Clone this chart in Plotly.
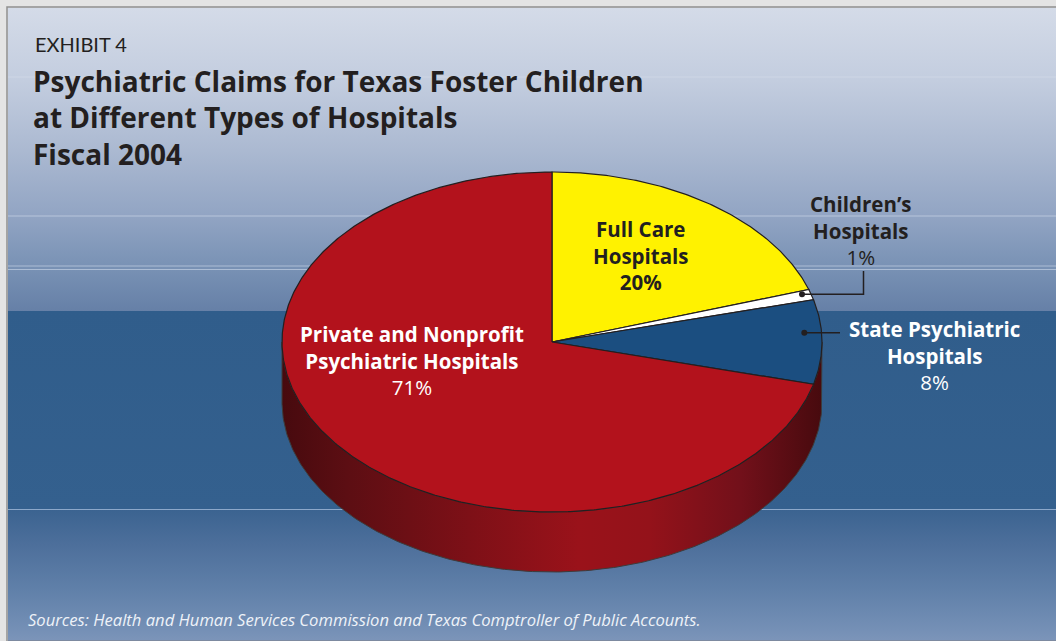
import numpy as np
import plotly.graph_objects as go

# ---- data -------------------------------------------------------------
categories = [
    "Full Care Hospitals",
    "Children’s Hospitals",
    "State Psychiatric Hospitals",
    "Private and Nonprofit Psychiatric Hospitals",
]
shares = [20, 1, 8, 71]          # percent of psychiatric claims
slice_colors = ["#fff200", "#ffffff", "#1b4e80", "#b3121c"]

# ---- canvas / pie geometry (pixel-like coordinates) -------------------
W, H = 1056, 641
CX, CY = 552, 342        # centre of the top face
RX, RY = 270, 170        # radii of the tilted (elliptical) top face
DEPTH = 60               # thickness of the pie
FONT = "Open Sans"
THIN_FONT = "Lato"
INK = "#231f20"


def rim(t_deg, dy=0.0):
    t = np.radians(t_deg)
    return CX + RX * np.cos(t), CY - RY * np.sin(t) + dy


fig = go.Figure()


def rect(x0, x1, y0, y1, stops):
    fig.add_trace(go.Scatter(
        x=[x0, x1, x1, x0, x0], y=[y0, y0, y1, y1, y0],
        mode="lines", line=dict(width=0), fill="toself",
        fillgradient=dict(type="vertical", colorscale=stops, start=y0, stop=y1),
        hoverinfo="skip", showlegend=False))


def hline(y, x0, x1, color, width=1.0):
    fig.add_trace(go.Scatter(
        x=[x0, x1], y=[y, y], mode="lines",
        line=dict(color=color, width=width),
        hoverinfo="skip", showlegend=False))


# ---- background panel ------------------------------------------------
PX0, PY0, PSPLIT = 8, 8, 311
rect(PX0, W, PY0, PSPLIT, [
    [0.00, "#d4dbe8"], [0.24, "#c3cddf"], [0.47, "#abb9d1"],
    [0.69, "#91a4c3"], [0.86, "#7891b4"], [1.00, "#6680a7"]])
rect(PX0, W, PSPLIT, 509, [[0, "#305d8b"], [1, "#34608e"]])
rect(PX0, W, 509, H, [
    [0.00, "#3b6390"], [0.27, "#4d6f9b"], [0.61, "#6080a9"],
    [0.92, "#7590b6"], [1.00, "#7c95b9"]])

for yy, c in [(77, "rgba(225,232,242,0.4)"), (216, "rgba(200,212,230,0.7)"),
              (266, "rgba(190,204,224,0.75)"), (269.5, "rgba(190,204,224,0.75)"),
              (509.5, "rgba(150,175,208,0.9)")]:
    hline(yy, PX0, W, c, 1)

# frame edge
fig.add_trace(go.Scatter(x=[7, 7, W], y=[H, 7, 7], mode="lines",
                         line=dict(color="#8f8f8f", width=1.5),
                         hoverinfo="skip", showlegend=False))
hline(640.5, PX0, W, "#7d8aa0", 1)

# ---- pie side (visible lower half of the rim) -------------------------
ts = np.linspace(180, 360, 240)
xt, yt = rim(ts)
xb, yb = rim(ts[::-1], DEPTH)
fig.add_trace(go.Scatter(
    x=np.concatenate([xt, xb, xt[:1]]), y=np.concatenate([yt, yb, yt[:1]]),
    mode="lines", line=dict(color="#3c3c3c", width=1), fill="toself",
    fillgradient=dict(type="horizontal", start=CX - RX, stop=CX + RX, colorscale=[
        [0.00, "#470a0e"], [0.12, "#5c0e13"], [0.35, "#7e1017"],
        [0.55, "#9a121a"], [0.68, "#94121a"], [0.85, "#72101a"],
        [1.00, "#470a0e"]]),
    hoverinfo="skip", showlegend=False))

# ---- pie top face: slices clockwise from 12 o'clock -------------------
start = 90.0
for name, v, col in zip(categories, shares, slice_colors):
    end = start - v * 3.6
    arc = np.linspace(start, end, max(int(abs(end - start) * 2), 6))
    ax_, ay_ = rim(arc)
    fig.add_trace(go.Scatter(
        x=np.concatenate([[CX], ax_, [CX]]), y=np.concatenate([[CY], ay_, [CY]]),
        mode="lines", line=dict(color=INK, width=1.2), fill="toself",
        fillcolor=col, name=name, hoverinfo="skip", showlegend=False))
    start = end

# ---- labels -------------------------------------------------------------
ann = []


def text(s, x, y, size, color=INK, weight=400, style="normal",
         xanchor="center", family=FONT):
    ann.append(dict(text=s, x=x, y=y, xref="x", yref="y", showarrow=False,
                    xanchor=xanchor, yanchor="middle", align=xanchor if xanchor != "center" else "center",
                    font=dict(family=family, size=size, color=color,
                              weight=weight, style=style)))


def slice_label(lines, pct_text, x, y, color):
    body = "<br>".join(f"<b>{ln}</b>" for ln in lines)
    text(f"{body}<br>{pct_text}", x, y, 20.5, color=color)


text("EXHIBIT 4", 33, 43.5, 20, xanchor="left", family=THIN_FONT)
text("Psychiatric Claims for Texas Foster Children<br>"
     "at Different Types of Hospitals<br>Fiscal 2004",
     31, 117.5, 28, weight=700, xanchor="left")

pct = [f"{v}%" for v in shares]
slice_label(["Full Care", "Hospitals"], f"<b>{pct[0]}</b>", 640.5, 255, INK)
slice_label(["Children’s", "Hospitals"], pct[1], 861, 230.5, INK)
slice_label(["State Psychiatric", "Hospitals"], pct[2], 934, 355.5, "white")
slice_label(["Private and Nonprofit", "Psychiatric Hospitals"], pct[3], 412, 360, "white")

text("Sources: Health and Human Services Commission and Texas Comptroller of Public Accounts.",
     26, 619.5, 16.6, color="#eef2f8", style="italic", xanchor="left")

# leader lines with end dots
fig.add_trace(go.Scatter(x=[802, 863.5, 863.5], y=[294.3, 294.3, 271],
                         mode="lines", line=dict(color=INK, width=1.5),
                         hoverinfo="skip", showlegend=False))
fig.add_trace(go.Scatter(x=[804.3, 840], y=[332.7, 332.7],
                         mode="lines", line=dict(color=INK, width=1.5),
                         hoverinfo="skip", showlegend=False))
fig.add_trace(go.Scatter(x=[802, 804.3], y=[294.3, 332.7], mode="markers",
                         marker=dict(color=INK, size=6),
                         hoverinfo="skip", showlegend=False))

fig.update_layout(
    width=W, height=H, margin=dict(l=0, r=0, t=0, b=0),
    paper_bgcolor="#e4e4e4", plot_bgcolor="#e4e4e4",
    xaxis=dict(range=[0, W], visible=False, fixedrange=True),
    yaxis=dict(range=[H, 0], visible=False, fixedrange=True),
    annotations=ann, showlegend=False,
)
fig.write_html("out.html", config={"displayModeBar": False})
